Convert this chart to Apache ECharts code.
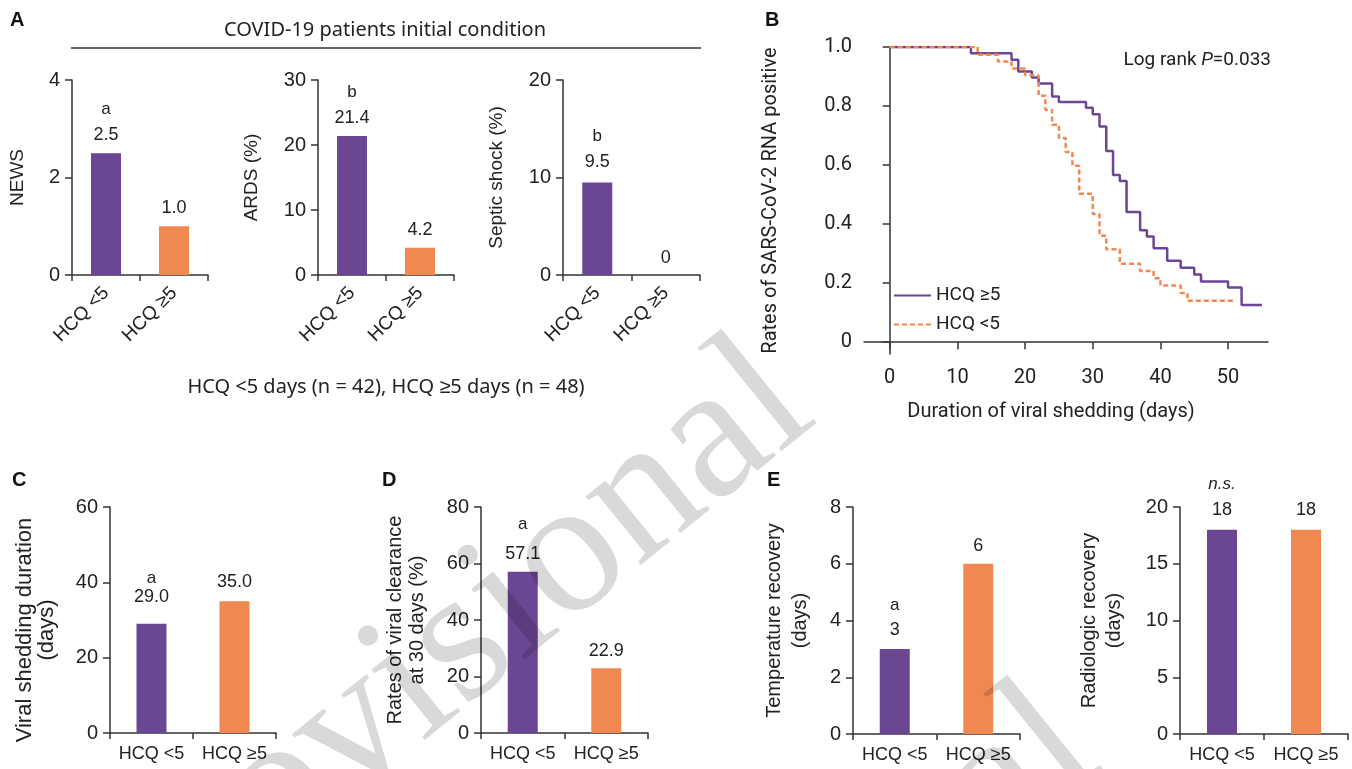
<!DOCTYPE html>
<html><head><meta charset="utf-8">
<script src="https://cdn.jsdelivr.net/npm/echarts@6/dist/echarts.min.js"></script>
<style>html,body{margin:0;padding:0;background:#fff}#c{width:1352px;height:769px}</style>
</head><body><div id="c"></div>
<script>
// ---------- data ----------
const categories = ['HCQ <5', 'HCQ ≥5'];
const newsValues = [2.5, 1.0];
const newsMarks = ['a', ''];
const ardsValues = [21.4, 4.2];
const ardsMarks = ['b', ''];
const septicValues = [9.5, 0];
const septicMarks = ['b', ''];
const sheddingValues = [29.0, 35.0];
const sheddingMarks = ['a', ''];
const clearanceValues = [57.1, 22.9];
const clearanceMarks = ['a', ''];
const tempValues = [3, 6];
const tempMarks = ['a', ''];
const radioValues = [18, 18];
const radioMarks = ['n.s.', ''];

const kmGe5Days  = [0, 12, 18, 19, 21, 22, 24, 25, 29, 30, 31, 32, 33, 34, 35, 37, 38, 39, 41, 43, 45, 46, 50, 52, 55];
const kmGe5Rates = [1.0, 0.979, 0.957, 0.917, 0.897, 0.876, 0.832, 0.814, 0.794, 0.772, 0.731, 0.648, 0.566, 0.546, 0.441, 0.379, 0.358, 0.318, 0.276, 0.252, 0.229, 0.206, 0.185, 0.126, 0.126];
const kmLt5Days  = [0, 13, 16, 18, 20, 22, 23, 24, 25, 26, 27, 28, 30, 31, 32, 34, 37, 39, 40, 43, 44, 51];
const kmLt5Rates = [1.0, 0.974, 0.951, 0.927, 0.904, 0.835, 0.787, 0.737, 0.692, 0.644, 0.598, 0.503, 0.434, 0.361, 0.315, 0.266, 0.241, 0.217, 0.192, 0.167, 0.14, 0.14];
const kmXTicks = [0, 10, 20, 30, 40, 50];
const kmYTicks = [0, 0.2, 0.4, 0.6, 0.8, 1.0];

// ---------- style ----------
const PURPLE = '#6B4693', ORANGE = '#F08852', INK = '#222', AX = '#333';
const SANS = '"Liberation Sans", Arial, sans-serif';
const ROB = 'Roboto, sans-serif';
const barColors = [PURPLE, ORANGE];

const panels = [
  {grid:{left:72, top:80, width:136, height:195}, values:newsValues, marks:newsMarks, max:4, interval:2, dec:1,
   name:'NEWS', nameGap:44, nameSize:19, nameLH:20, rotate:45, lab:{m:26, v:26, d:[5,5]}},
  {grid:{left:318, top:80, width:136, height:195}, values:ardsValues, marks:ardsMarks, max:30, interval:10, dec:1,
   name:'ARDS (%)', nameGap:56, nameSize:19, nameLH:20, rotate:45, lab:{m:26, v:26, d:[5,5]}},
  {grid:{left:563, top:80, width:137, height:195}, values:septicValues, marks:septicMarks, max:20, interval:10, dec:1,
   name:'Septic shock (%)', nameGap:56, nameSize:19, nameLH:20, rotate:45, lab:{m:26, v:26, d:[7,4]}},
  {grid:{left:110, top:507, width:166, height:226}, values:sheddingValues, marks:sheddingMarks, max:60, interval:20, dec:1,
   name:'Viral shedding duration\n(days)', nameGap:52, nameSize:22, nameLH:22, namePad:[0,20,0,0], rotate:0, lab:{m:17, v:20, d:[17,9]}},
  {grid:{left:481, top:507, width:167, height:226}, values:clearanceValues, marks:clearanceMarks, max:80, interval:20, dec:1,
   name:'Rates of viral clearance\nat 30 days (%)', nameGap:53, nameSize:20, nameLH:22, rotate:0, lab:{m:32, v:26, d:[5,4]}},
  {grid:{left:853, top:507, width:167, height:227}, values:tempValues, marks:tempMarks, max:8, interval:2, dec:0,
   name:'Temperature recovery\n(days)', nameGap:40, nameSize:20, nameLH:26, rotate:0, lab:{m:24, v:26, d:[6,5]}},
  {grid:{left:1180, top:507, width:168, height:227}, values:radioValues, marks:radioMarks, max:20, interval:5, dec:0,
   name:'Radiologic recovery\n(days)', nameGap:53, nameSize:20, nameLH:25, rotate:0, lab:{m:24, v:26, d:[7,7]}, italicMark:true}
];

const grids = [], xAxes = [], yAxes = [], series = [];
const axisLine = {show:true, lineStyle:{color:AX, width:1.5}};
const axisTick = {show:true, length:7, lineStyle:{color:AX, width:1.5}};

panels.forEach((p, gi) => {
  grids.push(Object.assign({containLabel:false}, p.grid));
  xAxes.push({
    type:'category', gridIndex:gi, data:categories,
    axisLine, axisTick:{show:true, length:6, lineStyle:{color:AX, width:1.5}},
    axisLabel:{interval:0, rotate:p.rotate, fontSize:p.rotate ? 19 : 18, color:INK, fontFamily:SANS, margin:p.rotate ? 15 : 12}
  });
  yAxes.push({
    type:'value', gridIndex:gi, min:0, max:p.max, interval:p.interval,
    splitLine:{show:false}, axisLine, axisTick,
    axisLabel:{fontSize:20, color:INK, fontFamily:SANS, margin:12},
    name:p.name, nameLocation:'middle', nameGap:p.nameGap,
    nameTextStyle:{fontSize:p.nameSize, lineHeight:p.nameLH, color:INK, fontFamily:SANS, padding:p.namePad || 0}
  });
  series.push({
    type:'bar', xAxisIndex:gi, yAxisIndex:gi, barWidth:30,
    data:p.values.map((v, i) => ({
      value:v, itemStyle:{color:barColors[i]},
      label:{distance:p.lab.d[i]}
    })),
    label:{
      show:true, position:'top',
      formatter: prm => {
        const v = prm.value;
        const t = v === 0 ? '0' : v.toFixed(p.dec);
        const m = p.marks[prm.dataIndex];
        return m ? `{${p.italicMark ? 'mi' : 'm'}|${m}}\n{v|${t}}` : `{v|${t}}`;
      },
      rich:{
        m:{fontSize:17, lineHeight:p.lab.m, color:INK, fontFamily:SANS},
        mi:{fontSize:17, lineHeight:p.lab.m, color:INK, fontFamily:SANS, fontStyle:'italic'},
        v:{fontSize:18, lineHeight:p.lab.v, color:INK, fontFamily:SANS}
      }
    }
  });
});

// Kaplan-Meier panel B
const kmIdx = grids.length;
grids.push({left:864, top:47, width:404, height:307, containLabel:false});
xAxes.push({
  type:'value', gridIndex:kmIdx, min:-3.8, max:55.9, splitLine:{show:false},
  axisLine, axisTick:{show:true, length:7, customValues:kmXTicks, lineStyle:{color:AX, width:1.5}},
  axisLabel:{customValues:kmXTicks, fontSize:20, color:INK, fontFamily:ROB, margin:14},
  name:'Duration of viral shedding (days)', nameLocation:'middle', nameGap:48,
  nameTextStyle:{fontSize:20, color:INK, fontFamily:ROB, padding:[0,30,0,0]}
});
yAxes.push({
  type:'value', gridIndex:kmIdx, min:-0.04, max:1.0, splitLine:{show:false},
  axisLine, axisTick:{show:true, length:7, customValues:kmYTicks, lineStyle:{color:AX, width:1.5}},
  axisLabel:{customValues:kmYTicks, fontSize:20, color:INK, fontFamily:ROB, margin:12,
    formatter: v => v === 0 ? '0' : v.toFixed(1)},
  name:'Rates of SARS-CoV-2 RNA positive', nameLocation:'middle', nameGap:83,
  nameTextStyle:{fontSize:20, color:INK, fontFamily:ROB}
});
series.push({
  type:'line', name:'HCQ ≥5', xAxisIndex:kmIdx, yAxisIndex:kmIdx, step:'end', symbol:'none',
  data:kmGe5Days.map((d, i) => [d, kmGe5Rates[i]]),
  lineStyle:{color:PURPLE, width:2.5}, itemStyle:{color:PURPLE}, z:3
});
series.push({
  type:'line', name:'HCQ <5', xAxisIndex:kmIdx, yAxisIndex:kmIdx, step:'end', symbol:'none',
  data:kmLt5Days.map((d, i) => [d, kmLt5Rates[i]]),
  lineStyle:{color:ORANGE, width:2.5, type:[5,3]}, itemStyle:{color:ORANGE}, z:4
});

const letter = (t, x, y) => ({type:'text', x, y, style:{text:t, fontSize:20, fontWeight:'bold', fontFamily:SANS, fill:'#111', textVerticalAlign:'top'}});
const wm = (x, y) => ({type:'text', x, y, rotation:39*Math.PI/180, z:100, silent:true,
  style:{text:'Provisional', fontSize:192, fontFamily:'"Liberation Serif", "Times New Roman", serif', fill:'rgba(0,0,0,0.15)', textAlign:'right', textVerticalAlign:'middle'}});

const option = {
  animation:false,
  backgroundColor:'#fff',
  grid:grids, xAxis:xAxes, yAxis:yAxes, series,
  legend:{
    data:['HCQ ≥5', 'HCQ <5'], orient:'vertical', left:888, top:281,
    itemWidth:37, itemHeight:14, itemGap:10, selectedMode:false,
    itemStyle:{opacity:0},
    textStyle:{fontSize:19, color:INK, fontFamily:ROB}
  },
  graphic:[
    letter('A', 10, 10), letter('B', 765, 10), letter('C', 12, 470), letter('D', 382, 470), letter('E', 767, 470),
    {type:'text', x:385, y:30, style:{text:'COVID-19 patients initial condition', fontSize:20, fontFamily:'"Noto Sans", sans-serif', fill:INK, textAlign:'center', textVerticalAlign:'middle'}},
    {type:'line', shape:{x1:71, y1:48, x2:701, y2:48}, style:{stroke:AX, lineWidth:1.5}},
    {type:'text', x:386, y:387, style:{text:'HCQ <5 days (n = 42), HCQ ≥5 days (n = 48)', fontSize:20, fontFamily:'"Noto Sans", sans-serif', fill:INK, textAlign:'center', textVerticalAlign:'middle'}},
    {type:'text', x:1271, y:60, style:{text:'{n|Log rank }{i|P}{n|=0.033}', textAlign:'right', textVerticalAlign:'middle',
      rich:{n:{fontSize:19, fontFamily:ROB, fill:INK}, i:{fontSize:19, fontFamily:ROB, fill:INK, fontStyle:'italic'}}}},
    wm(788, 381), wm(1074, 727)
  ]
};
const chart = echarts.init(document.getElementById('c'), null, {renderer:'canvas'});
chart.setOption(option);
</script></body></html>
